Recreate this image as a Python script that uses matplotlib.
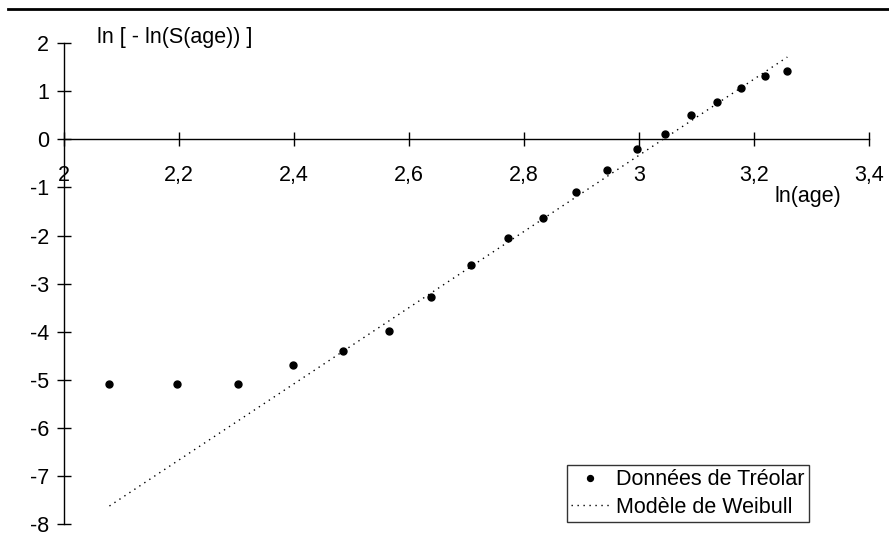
import numpy as np
import matplotlib
matplotlib.use("Agg")
import matplotlib.pyplot as plt
from matplotlib.lines import Line2D
from matplotlib.ticker import FuncFormatter

plt.rcParams['font.family'] = ['Liberation Sans', 'DejaVu Sans']

# données (ln de l'âge, ln[-ln(S)])
ln_age = [2.079, 2.197, 2.303, 2.398, 2.485, 2.565, 2.639, 2.708, 2.773, 2.833,
          2.890, 2.944, 2.996, 3.045, 3.091, 3.135, 3.178, 3.219, 3.258]
ln_ln_s = [-5.09, -5.09, -5.09, -4.68, -4.40, -3.98, -3.27, -2.61, -2.06, -1.63,
           -1.10, -0.64, -0.20, 0.12, 0.50, 0.78, 1.07, 1.31, 1.43]
# modèle de Weibull (droite)
weibull_x = [2.079, 3.258]
weibull_y = [-7.62, 1.71]

x_ticks = [2, 2.2, 2.4, 2.6, 2.8, 3, 3.2, 3.4]
y_ticks = [-8, -7, -6, -5, -4, -3, -2, -1, 0, 1, 2]

fs = 15.5

fig = plt.figure(figsize=(8.89, 5.55), dpi=100, facecolor='white')
ax = fig.add_axes([64 / 889, 1 - 524.3 / 555, 805 / 889, 481.2 / 555])

ax.plot(ln_age, ln_ln_s, 'o', color='black', markersize=5, label='Données de Tréolar')
ax.plot(weibull_x, weibull_y, color='black', linewidth=1, linestyle=(0, (1, 3.3)),
        label='Modèle de Weibull')

ax.set_xlim(2, 3.4)
ax.set_ylim(-8, 2)
ax.spines['top'].set_visible(False)
ax.spines['right'].set_visible(False)
ax.spines['bottom'].set_position(('data', 0))
ax.spines['left'].set_position(('data', 2))
for s in ('bottom', 'left'):
    ax.spines[s].set_linewidth(1)
    ax.spines[s].set_color('black')

fmt = FuncFormatter(lambda v, p: ('%g' % v).replace('.', ','))
ax.set_xticks(x_ticks)
ax.set_yticks(y_ticks)
ax.xaxis.set_major_formatter(fmt)
ax.yaxis.set_major_formatter(fmt)
ax.tick_params(axis='both', direction='inout', length=9.5, width=1, labelsize=fs, color='black')
ax.tick_params(axis='x', pad=14)
ax.tick_params(axis='y', pad=6)

fig.text(97 / 889, 1 - 38 / 555, 'ln [ - ln(S(age)) ]', fontsize=fs, va='center', ha='left')
fig.text(775 / 889, 1 - 197 / 555, 'ln(age)', fontsize=fs, va='center', ha='left')

leg = ax.legend(loc='lower left', bbox_to_anchor=(567 / 889, 1 - 522 / 555),
                bbox_transform=fig.transFigure, fontsize=fs, frameon=True, fancybox=False,
                edgecolor='black', borderpad=0.2, labelspacing=0.3, handlelength=1.75,
                handletextpad=0.32, borderaxespad=0, markerscale=0.85)
leg.get_frame().set_linewidth(1)

# trait en haut de la figure
fig.add_artist(Line2D([8 / 889, 1], [1 - 9 / 555, 1 - 9 / 555], color='black', linewidth=2,
                      transform=fig.transFigure))

plt.savefig('out.png', dpi=100)
